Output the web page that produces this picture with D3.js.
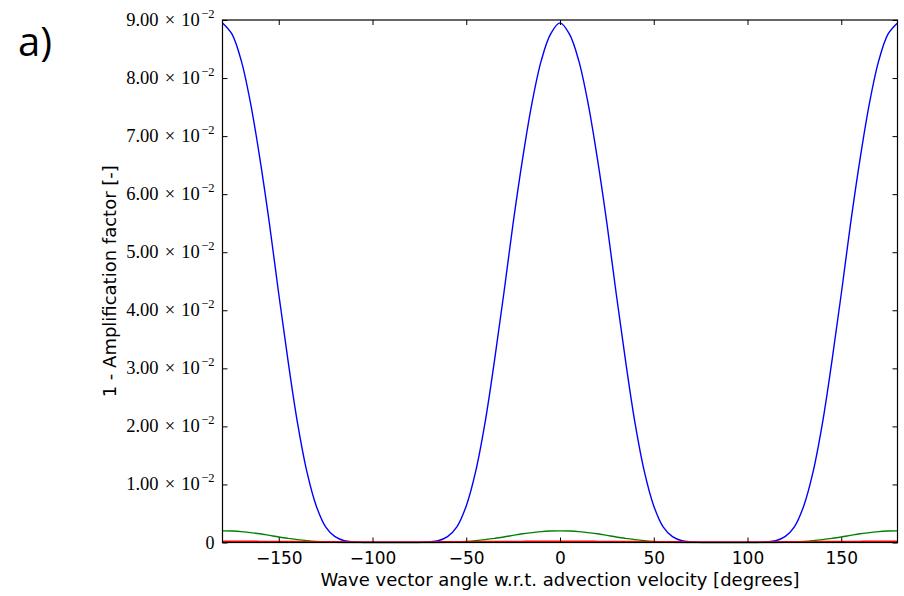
<!DOCTYPE html>
<html>
<head>
<meta charset="utf-8">
<script src="https://cdn.jsdelivr.net/npm/d3@7"></script>
<style>
  body { margin: 0; background: #fff; }
</style>
</head>
<body>
<svg id="svg" width="904" height="596"></svg>
<script>
// angle in degrees, read every 5 degrees off the picture
const angles = [-180, -175, -170, -165, -160, -155, -150, -145, -140, -135, -130, -125, -120, -115, -110, -105, -100, -95, -90,
  -85, -80, -75, -70, -65, -60, -55, -50, -45, -40, -35, -30, -25, -20, -15, -10, -5, 0,
  5, 10, 15, 20, 25, 30, 35, 40, 45, 50, 55, 60, 65, 70, 75, 80, 85, 90,
  95, 100, 105, 110, 115, 120, 125, 130, 135, 140, 145, 150, 155, 160, 165, 170, 175, 180]

const blue = [0.0895, 0.0876, 0.0830, 0.0756, 0.0660, 0.0550, 0.0428, 0.0312, 0.0206, 0.0122, 0.0063, 0.0027, 0.0010, 0.0003, 0.0001, 0, 0, 0, 0,
  0, 0, 0, 0.0001, 0.0003, 0.0010, 0.0027, 0.0063, 0.0122, 0.0206, 0.0312, 0.0428, 0.0550, 0.0660, 0.0756, 0.0830, 0.0876, 0.0895,
  0.0876, 0.0830, 0.0756, 0.0660, 0.0550, 0.0428, 0.0312, 0.0206, 0.0122, 0.0063, 0.0027, 0.0010, 0.0003, 0.0001, 0, 0, 0, 0,
  0, 0, 0, 0.0001, 0.0003, 0.0010, 0.0027, 0.0063, 0.0122, 0.0206, 0.0312, 0.0428, 0.0550, 0.0660, 0.0756, 0.0830, 0.0876, 0.0895]

const green = [0.00200, 0.00197, 0.00188, 0.00170, 0.00150, 0.00123, 0.00095, 0.00072, 0.00050, 0.00032, 0.00018, 0.00009, 0.00004, 0.00001, 0, 0, 0, 0, 0,
  0, 0, 0, 0, 0.00001, 0.00004, 0.00009, 0.00018, 0.00032, 0.00050, 0.00072, 0.00095, 0.00123, 0.00150, 0.00170, 0.00188, 0.00197, 0.00200,
  0.00197, 0.00188, 0.00170, 0.00150, 0.00123, 0.00095, 0.00072, 0.00050, 0.00032, 0.00018, 0.00009, 0.00004, 0.00001, 0, 0, 0, 0, 0,
  0, 0, 0, 0, 0.00001, 0.00004, 0.00009, 0.00018, 0.00032, 0.00050, 0.00072, 0.00095, 0.00123, 0.00150, 0.00170, 0.00188, 0.00197, 0.00200]

const red = [0.00022, 0.00022, 0.00021, 0.00021, 0.00020, 0.00019, 0.00018, 0.00017, 0.00016, 0.00015, 0.00014, 0.00013, 0.00012, 0.00012, 0.00011, 0.00011, 0.00010, 0.00010, 0.00010,
  0.00010, 0.00010, 0.00011, 0.00011, 0.00012, 0.00012, 0.00013, 0.00014, 0.00015, 0.00016, 0.00017, 0.00018, 0.00019, 0.00020, 0.00021, 0.00021, 0.00022, 0.00022,
  0.00022, 0.00021, 0.00021, 0.00020, 0.00019, 0.00018, 0.00017, 0.00016, 0.00015, 0.00014, 0.00013, 0.00012, 0.00012, 0.00011, 0.00011, 0.00010, 0.00010, 0.00010,
  0.00010, 0.00010, 0.00011, 0.00011, 0.00012, 0.00012, 0.00013, 0.00014, 0.00015, 0.00016, 0.00017, 0.00018, 0.00019, 0.00020, 0.00021, 0.00021, 0.00022, 0.00022]

const xTicks = [-150, -100, -50, 0, 50, 100, 150]
const yTicks = [0, 0.01, 0.02, 0.03, 0.04, 0.05, 0.06, 0.07, 0.08, 0.09]

const series = [
  { values: blue, color: '#0000ff' },
  { values: green, color: '#008000' },
  { values: red, color: '#ff0000' }
]

let svg = d3.select('#svg')

const margin = { top: 20, bottom: 53.5, left: 222.5, right: 6.5 }
const width = +svg.attr('width')
const height = +svg.attr('height')
const innerWidth = width - margin.left - margin.right
const innerHeight = height - margin.top - margin.bottom

const xScale = d3.scaleLinear().domain([-180, 180]).range([0, innerWidth])
const yScale = d3.scaleLinear().domain([0, 0.09]).range([innerHeight, 0])

const group = svg.append('g')
  .attr('transform', `translate(${margin.left}, ${margin.top})`)

// curves
const line = d3.line()
  .x((d, i) => xScale(angles[i]))
  .y(d => yScale(d))
  .curve(d3.curveCatmullRom)

group.append('defs').append('clipPath').attr('id', 'clip')
  .append('rect').attr('width', innerWidth).attr('height', innerHeight + 1)

series.forEach(s => {
  group.append('path')
    .datum(s.values)
    .attr('d', line)
    .attr('fill', 'none')
    .attr('stroke', s.color)
    .attr('stroke-width', 1.4)
    .attr('clip-path', 'url(#clip)')
})

// axes, ticks pointing inward on all four sides (matplotlib classic)
const tickLen = 5
const xBottom = d3.axisBottom(xScale).tickValues(xTicks).tickSize(-tickLen).tickPadding(9)
  .tickFormat(d => d < 0 ? '\u2212' + Math.abs(d) : d)
const xTop = d3.axisTop(xScale).tickValues(xTicks).tickSize(-tickLen).tickFormat('')
const yLeft = d3.axisLeft(yScale).tickValues(yTicks).tickSize(-tickLen).tickFormat('')
const yRight = d3.axisRight(yScale).tickValues(yTicks).tickSize(-tickLen).tickFormat('')

const gb = group.append('g').attr('transform', `translate(0, ${innerHeight})`).call(xBottom)
group.append('g').call(xTop)
group.append('g').call(yLeft)
group.append('g').attr('transform', `translate(${innerWidth}, 0)`).call(yRight)

group.selectAll('.domain').remove()
group.selectAll('.tick line').attr('stroke', '#000').attr('stroke-width', 1)

gb.selectAll('.tick text')
  .attr('font-family', 'DejaVu Sans')
  .attr('font-size', '17px')
  .attr('fill', '#000')

// y tick labels like mathtext: 9.00 x 10^-2 (exponent as its own text)
yTicks.forEach(v => {
  const y = yScale(v) + 6
  if (v === 0) {
    group.append('text').text('0')
      .attr('x', -8).attr('y', y)
      .attr('text-anchor', 'end')
      .attr('font-family', 'Liberation Serif')
      .attr('font-size', '18px')
    return
  }
  const sup = group.append('text').text('\u22122')
    .attr('x', -8).attr('y', y - 8)
    .attr('text-anchor', 'end')
    .attr('font-family', 'Liberation Serif')
    .attr('font-size', '12.5px')
  const supW = sup.node().getComputedTextLength()
  group.append('text')
    .text((v * 100).toFixed(2) + ' \u00d7 10')
    .attr('x', -8 - supW - 1.5).attr('y', y)
    .attr('text-anchor', 'end')
    .attr('font-family', 'Liberation Serif')
    .attr('font-size', '18.5px')
    .attr('word-spacing', '1.5px')
})

// frame
group.append('rect')
  .attr('width', innerWidth)
  .attr('height', innerHeight)
  .attr('fill', 'none')
  .attr('stroke', '#000')
  .attr('stroke-width', 1.2)

// axis titles
svg.append('text').text('Wave vector angle w.r.t. advection velocity [degrees]')
  .attr('x', margin.left + innerWidth / 2)
  .attr('y', 586)
  .attr('text-anchor', 'middle')
  .attr('font-family', 'DejaVu Sans')
  .attr('font-size', '18px')

svg.append('text').text('1 - Amplification factor [-]')
  .attr('transform', `translate(116, ${margin.top + innerHeight / 2}) rotate(-90)`)
  .attr('text-anchor', 'middle')
  .attr('font-family', 'DejaVu Sans')
  .attr('font-size', '18px')

svg.append('text').text('a)')
  .attr('x', 18)
  .attr('y', 56)
  .attr('font-family', 'Open Sans')
  .attr('font-size', '40px')
</script>
</body>
</html>
